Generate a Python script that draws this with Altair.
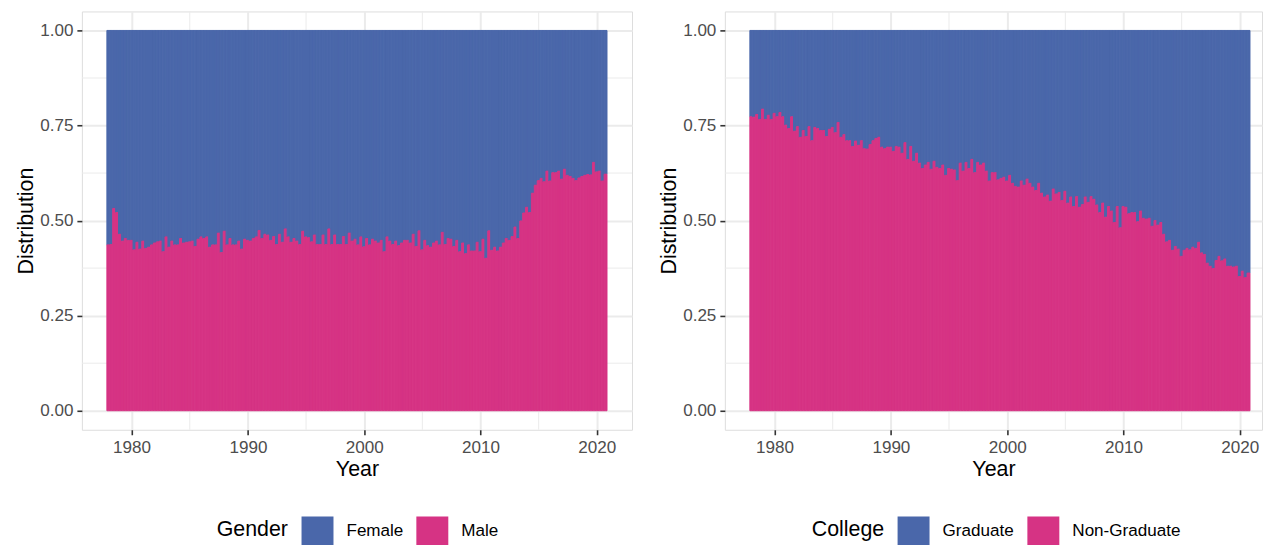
import altair as alt
import pandas as pd

FONT = "Liberation Sans"
BLUE = "#4A67AA"
PINK = "#D63384"
GRID = "#EBEBEB"

# quarterly observations, 1978 Q1 .. 2020 Q4
quarters = [1978 + 0.25 * i for i in range(172)]

gender_labels = ["Female", "Male"]
college_labels = ["Graduate", "Non-Graduate"]

# share of the bottom category (Male) per quarter
male_share = [
    0.436, 0.437, 0.532, 0.521,  0.464, 0.446, 0.453, 0.448,  0.448, 0.423, 0.443, 0.425,
    0.446, 0.427, 0.430, 0.436,  0.441, 0.444, 0.446, 0.418,  0.457, 0.430, 0.446, 0.436,
    0.436, 0.453, 0.441, 0.443,  0.444, 0.446, 0.432, 0.451,  0.457, 0.453, 0.457, 0.430,
    0.436, 0.436, 0.467, 0.416,  0.472, 0.436, 0.453, 0.436,  0.436, 0.446, 0.425, 0.451,
    0.448, 0.446, 0.453, 0.457,  0.474, 0.453, 0.464, 0.462,  0.448, 0.458, 0.437, 0.464,
    0.443, 0.478, 0.457, 0.443,  0.453, 0.446, 0.437, 0.472,  0.457, 0.455, 0.444, 0.462,
    0.437, 0.437, 0.462, 0.437,  0.478, 0.437, 0.462, 0.437,  0.437, 0.458, 0.437, 0.467,
    0.446, 0.451, 0.436, 0.457,  0.431, 0.453, 0.436, 0.451,  0.446, 0.441, 0.448, 0.418,
    0.457, 0.446, 0.437, 0.446,  0.434, 0.441, 0.448, 0.448,  0.441, 0.464, 0.432, 0.473,
    0.423, 0.448, 0.434, 0.430,  0.441, 0.446, 0.436, 0.469,  0.437, 0.453, 0.451, 0.432,
    0.448, 0.418, 0.441, 0.413,  0.436, 0.420, 0.420, 0.443,  0.418, 0.451, 0.401, 0.473,
    0.422, 0.430, 0.420, 0.430,  0.441, 0.453, 0.448, 0.458,  0.483, 0.453, 0.499, 0.520,
    0.535, 0.521, 0.572, 0.593,  0.605, 0.611, 0.602, 0.630,  0.604, 0.626, 0.626, 0.630,
    0.609, 0.635, 0.619, 0.616,  0.611, 0.605, 0.612, 0.616,  0.619, 0.621, 0.620, 0.653,
    0.628, 0.630, 0.604, 0.622,
]

# share of the bottom category (Non-Graduate) per quarter
nongrad_share = [
    0.773, 0.772, 0.779, 0.766,  0.793, 0.766, 0.777, 0.766,  0.782, 0.773, 0.784, 0.773,
    0.751, 0.742, 0.773, 0.735,  0.747, 0.719, 0.737, 0.721,  0.747, 0.710, 0.745, 0.742,
    0.737, 0.737, 0.721, 0.740,  0.745, 0.731, 0.758, 0.719,  0.726, 0.710, 0.710, 0.695,
    0.709, 0.698, 0.710, 0.689,  0.688, 0.700, 0.710, 0.716,  0.719, 0.693, 0.689, 0.693,
    0.693, 0.682, 0.695, 0.693,  0.677, 0.705, 0.661, 0.695,  0.656, 0.677, 0.651, 0.637,
    0.646, 0.653, 0.635, 0.656,  0.640, 0.637, 0.646, 0.619,  0.637, 0.635, 0.633, 0.605,
    0.651, 0.630, 0.653, 0.637,  0.661, 0.626, 0.653, 0.646,  0.651, 0.630, 0.604, 0.626,
    0.626, 0.607, 0.611, 0.614,  0.604, 0.619, 0.598, 0.590,  0.588, 0.604, 0.593, 0.609,
    0.598, 0.588, 0.579, 0.598,  0.572, 0.562, 0.567, 0.551,  0.583, 0.570, 0.574, 0.553,
    0.577, 0.546, 0.562, 0.537,  0.563, 0.535, 0.542, 0.562,  0.548, 0.563, 0.556, 0.541,
    0.521, 0.546, 0.509, 0.537,  0.525, 0.495, 0.537, 0.481,  0.537, 0.535, 0.518, 0.521,
    0.521, 0.497, 0.525, 0.506,  0.504, 0.506, 0.485, 0.500,  0.488, 0.495, 0.464, 0.444,
    0.448, 0.422, 0.432, 0.425,  0.406, 0.422, 0.427, 0.423,  0.430, 0.427, 0.443, 0.415,
    0.411, 0.388, 0.380, 0.374,  0.395, 0.406, 0.394, 0.399,  0.380, 0.380, 0.378, 0.380,
    0.353, 0.367, 0.350, 0.362,
]

x_major = [1980, 1990, 2000, 2010, 2020]
x_minor = [1985, 1995, 2005, 2015]
y_major = [0.0, 0.25, 0.5, 0.75, 1.0]
y_minor = [0.125, 0.375, 0.625, 0.875]


def build_df(share, labels):
    rows = []
    for q, m in zip(quarters, share):
        rows.append({"start": q - 0.125, "end": q + 0.125, "lo": m, "hi": 1.0, "grp": labels[0]})
        rows.append({"start": q - 0.125, "end": q + 0.125, "lo": 0.0, "hi": m, "grp": labels[1]})
    return pd.DataFrame(rows)


def panel(df, labels, legend_title, xmax, width, legend_x):
    xscale = alt.Scale(domain=[1975.725, xmax], nice=False, zero=False)
    yscale = alt.Scale(domain=[-0.05, 1.05], nice=False, zero=False)
    common = dict(
        grid=True, gridColor=GRID, gridWidth=2, domain=False,
        ticks=True, tickColor="#333333", tickWidth=1.6, tickSize=5,
        labelFont=FONT, labelFontSize=17.1, labelColor="#4D4D4D", labelPadding=4,
        titleFont=FONT, titleFontSize=21.4, titleColor="black", titleFontWeight="normal",
        labelFlush=False,
    )
    xaxis = alt.Axis(title="Year", values=x_major, format="d", titlePadding=3, **common)
    yaxis = alt.Axis(title="Distribution", values=y_major, format=".2f", titlePadding=3, **common)

    minor_x = alt.Chart(pd.DataFrame({"v": x_minor})).mark_rule(
        color=GRID, strokeWidth=1
    ).encode(x=alt.X("v:Q", scale=xscale, axis=xaxis))
    minor_y = alt.Chart(pd.DataFrame({"v": y_minor})).mark_rule(
        color=GRID, strokeWidth=1
    ).encode(y=alt.Y("v:Q", scale=yscale, axis=yaxis))

    legend = alt.Legend(
        title=legend_title, orient="none", legendX=legend_x, legendY=504,
        direction="horizontal", titleOrient="left", titleAnchor="middle",
        titleBaseline="middle",
        titleFont=FONT, titleFontSize=21.4, titleColor="black", titleFontWeight="normal",
        titlePadding=13,
        labelFont=FONT, labelFontSize=17.1, labelColor="black", labelOffset=13,
        columnPadding=13, padding=0, labelLimit=400,
        symbolType="M-1,-0.906H1V0.906H-1Z", symbolSize=1024,
        symbolStrokeWidth=0, symbolOpacity=1,
    )
    cscale = alt.Scale(domain=labels, range=[BLUE, PINK])
    bars = alt.Chart(df).mark_bar(strokeWidth=1.0).encode(
        x=alt.X("start:Q", scale=xscale, axis=xaxis),
        x2="end",
        y=alt.Y("lo:Q", scale=yscale, axis=yaxis),
        y2="hi",
        color=alt.Color("grp:N", scale=cscale, legend=legend),
        stroke=alt.Stroke("grp:N", scale=cscale, legend=None),
    )
    return alt.layer(minor_x, minor_y, bars).properties(width=width, height=419)


left = panel(build_df(male_share, gender_labels), gender_labels, "Gender", 2023.025, 551, 135)
right = panel(build_df(nongrad_share, college_labels), college_labels, "College", 2021.909, 538, 87)

chart = (
    alt.hconcat(left, right, spacing=25)
    .resolve_scale(color="independent", stroke="independent")
    .configure_view(stroke=None)
    .configure(font=FONT)
    .properties(padding={"left": 7, "top": 2, "right": 0, "bottom": 0})
)

chart.save("out.html", embed_options={"renderer": "svg", "actions": False})
